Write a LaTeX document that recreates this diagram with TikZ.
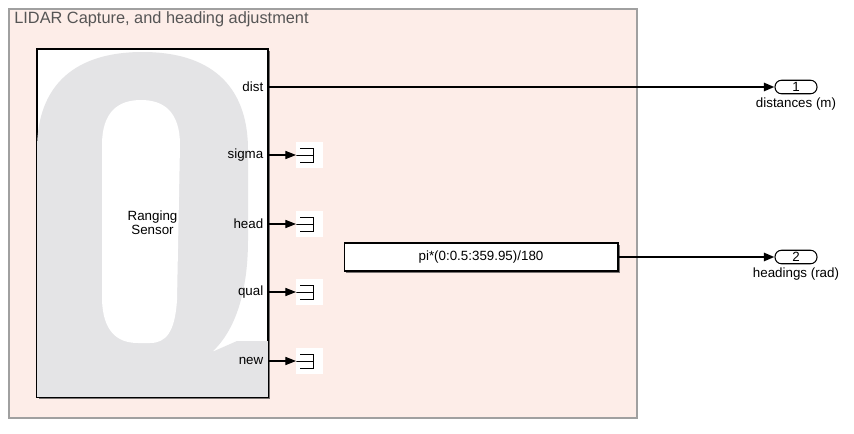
\documentclass[tikz,border=0pt]{standalone}
\usepackage{fontspec}
\setmainfont{Liberation Sans}
\usetikzlibrary{positioning, arrows.meta, shadows}
\definecolor{areafill}{RGB}{253,237,232}
\definecolor{areadraw}{RGB}{160,160,160}
\definecolor{iconfill}{RGB}{228,228,230}
\definecolor{titlegray}{RGB}{85,85,85}
\tikzset{
	block/.style      = {draw, fill=white, rectangle, line width=0.6pt, inner sep=0pt, drop shadow={shadow xshift=0.9pt, shadow yshift=-0.9pt, fill=black!75, opacity=0.7}},
	blocktext/.style  = {font=\fontsize{7.6}{8}\selectfont, inner sep=1pt},
	area/.style       = {draw=areadraw, fill=areafill, line width=0.6pt},
	areatitle/.style  = {text=titlegray, font=\fontsize{9.3}{10}\selectfont, inner sep=0pt},
	terminator/.style = {fill=white, rectangle, minimum width=0.54cm, minimum height=0.52cm, inner sep=0pt,
		path picture={\draw[line width=0.5pt] ([shift={(-13.5,0)}]path picture bounding box.center) -- ++(17,0)
			([shift={(-9.5,-7)}]path picture bounding box.center) -- ++(13,0) -- ++(0,14) -- ++(-13,0);}},
	outport/.style    = {draw, fill=white, rounded corners=0.13cm, minimum width=0.84cm, minimum height=0.27cm, inner sep=0pt, line width=0.6pt, font=\fontsize{7.6}{8}\selectfont},
	signal/.style     = {line width=1.3pt},
	thinwire/.style   = {line width=0.6pt},
}

\begin{document}
\begin{tikzpicture}[x=0.02cm, y=-0.02cm, >={Triangle[length=6pt, width=4.6pt]}]
	\useasboundingbox (0,0) rectangle (854,433);

	% Draw the subsystem area
	\draw[area] (9,9) rectangle (637,418);
	\node[areatitle, anchor=west] (title) at (14,19) {LIDAR Capture, and heading adjustment};

	% Draw the sensor block with its icon
	\node[block, minimum width=4.62cm, minimum height=6.96cm] (sensor) at (152.5,223) {};
	\begin{scope}
		\clip (sensor.south west) rectangle (sensor.north east);
		\fill[iconfill] (37,400) -- (37,150) .. controls (37,84) and (76,52) .. (142.5,52)
			.. controls (209,52) and (248,84) .. (248,150) -- (248,240)
			.. controls (248,290) and (236,330) .. (212,352) -- (237,341) -- (270,341) -- (270,400) -- cycle;
		\fill[white] (102,145) .. controls (102,112) and (118,100) .. (141,100)
			.. controls (164,100) and (180,112) .. (180,145) -- (177,300)
			.. controls (175,332) and (166,343) .. (150,343) -- (138,343)
			.. controls (116,343) and (103,330) .. (102,300) -- cycle;
	\end{scope}
	\draw[line width=0.6pt] (sensor.south west) rectangle (sensor.north east);
	\node[blocktext, align=center] (sensorname) at (sensor.center) {Ranging\\Sensor};

	% Ports of the sensor
	\foreach \port/\y in {dist/87, sigma/155, head/224, qual/292, new/361} {
		\coordinate (p-\port) at (268,\y);
		\node[blocktext, anchor=east] (l-\port) at ([xshift=-1.5pt]p-\port) {\port};
	}

	% Terminate the unused ports
	\foreach \port in {sigma, head, qual, new} {
		\node[terminator, right=0.56cm of p-\port] (t-\port) {};
		\draw[->, thinwire] (p-\port) -- (t-\port);
	}

	% Draw the heading constant and the outputs
	\node[block, blocktext, minimum width=5.48cm, minimum height=0.56cm] (headings) at (481,257) {pi*(0:0.5:359.95)/180};
	\node[outport, label={[blocktext, label distance=1pt]below:distances (m)}] (out1) at (796,87) {1};
	\node[outport, label={[blocktext, label distance=1pt]below:headings (rad)}] (out2) at (out1 |- headings) {2};

	% Connect everything together
	\draw[->, signal] (p-dist) -- (out1);
	\draw[->, signal] (headings) -- (out2);
\end{tikzpicture}
\end{document}
